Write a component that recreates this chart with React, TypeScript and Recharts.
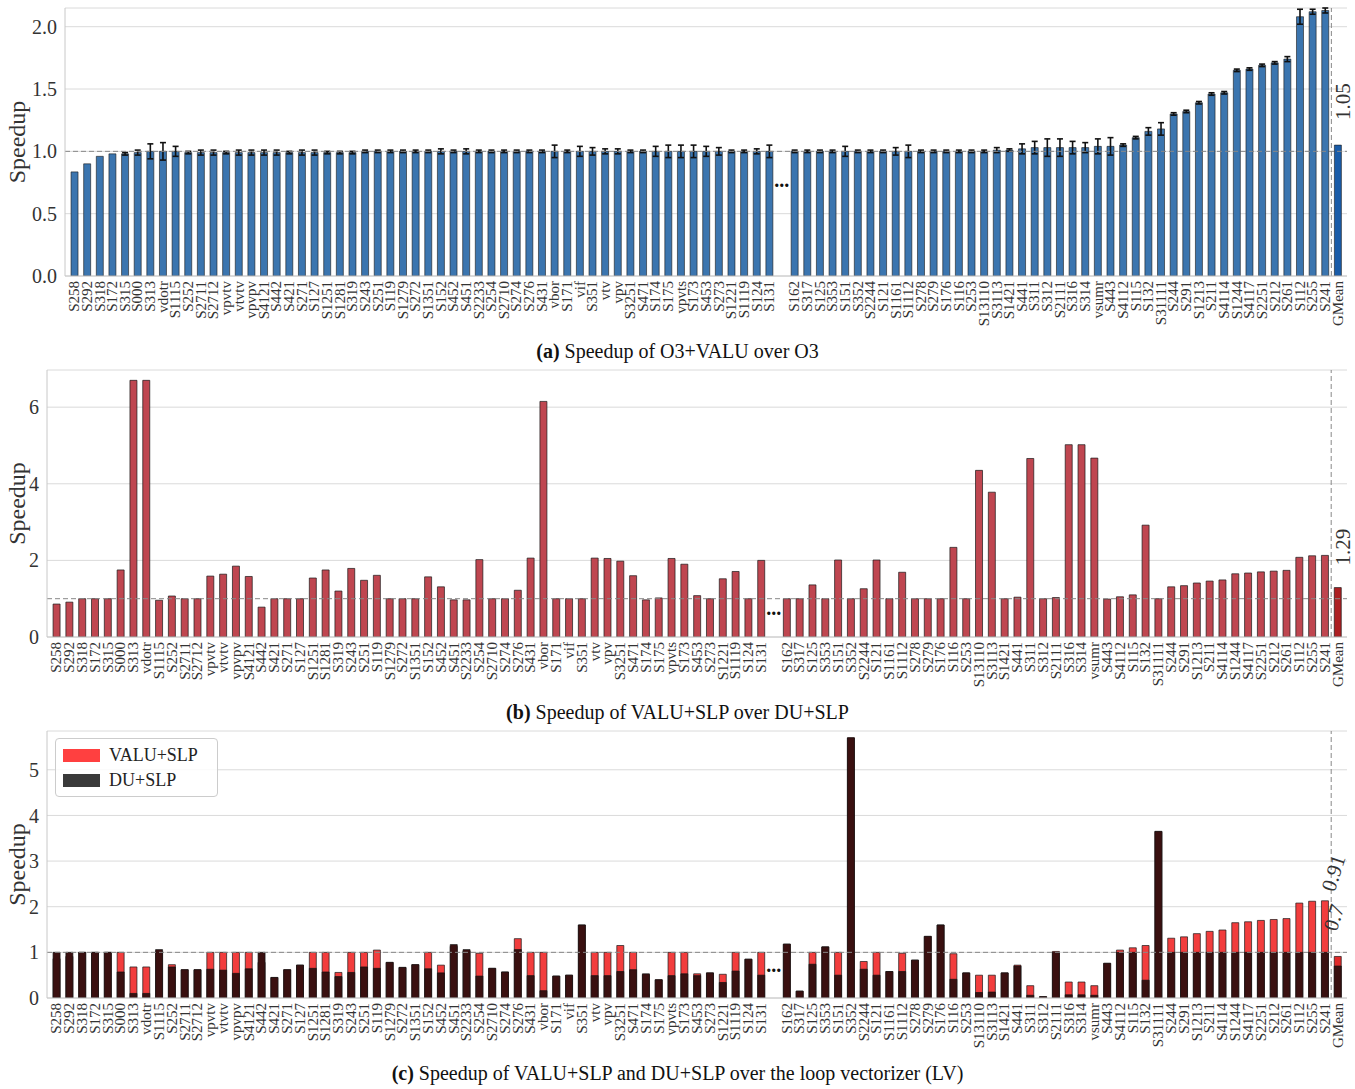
import {
  BarChart,
  Bar,
  XAxis,
  YAxis,
  CartesianGrid,
  ReferenceLine,
  ReferenceDot,
  ErrorBar,
  Cell,
  LabelList,
} from "recharts";

const FONT = '"Liberation Serif", "DejaVu Serif", serif';

// benchmark order is the same in all three panels; " " is the gap with the dots
const CATS = [
  "S258", "S292", "S318", "S172", "S315", "S000", "S313", "vdotr", "S1115", "S252",
  "S2711", "S2712", "vpvtv", "vtvtv", "vpvpv", "S4121", "S442", "S421", "S271", "S127",
  "S1251", "S1281", "S319", "S243", "S251", "S119", "S1279", "S272", "S1351", "S152",
  "S452", "S451", "S2233", "S254", "S2710", "S274", "S276", "S431", "vbor", "S171",
  "vif", "S351", "vtv", "vpv", "S3251", "S471", "S174", "S175", "vpvts", "S173",
  "S453", "S273", "S1221", "S1119", "S124", "S131",
  " ",
  "S162", "S317", "S125", "S353", "S151", "S352", "S2244", "S121", "S1161", "S1112",
  "S278", "S279", "S176", "S116", "S253", "S13110", "S3113", "S1421", "S441", "S311",
  "S312", "S2111", "S316", "S314", "vsumr", "S443", "S4112", "S115", "S132", "S31111",
  "S244", "S291", "S1213", "S211", "S4114", "S1244", "S4117", "S2251", "S212", "S261",
  "S112", "S255", "S241", "GMean",
];

// (a) O3+VALU over O3
const A_VALS = [
  0.835, 0.9, 0.96, 0.98, 0.98, 0.99, 1.0, 1.0, 1.0, 0.99,
  0.99, 0.99, 0.99, 0.99, 0.99, 0.99, 0.99, 0.99, 0.99, 0.99,
  0.99, 0.99, 0.99, 1.0, 1.0, 1.0, 1.0, 1.0, 1.0, 1.0,
  1.0, 1.0, 1.0, 1.0, 1.0, 1.0, 1.0, 1.0, 1.0, 1.0,
  1.0, 1.0, 1.0, 1.0, 1.0, 1.0, 1.0, 1.0, 1.0, 1.0,
  1.0, 1.0, 1.0, 1.0, 1.0, 1.0,
  null,
  1.0, 1.0, 1.0, 1.0, 1.0, 1.0, 1.0, 1.0, 1.0, 1.0,
  1.0, 1.0, 1.0, 1.0, 1.0, 1.0, 1.01, 1.01, 1.02, 1.03,
  1.03, 1.03, 1.03, 1.03, 1.04, 1.04, 1.05, 1.11, 1.16, 1.18,
  1.3, 1.32, 1.39, 1.46, 1.47, 1.65, 1.66, 1.69, 1.71, 1.74,
  2.08, 2.12, 2.13, 1.05,
];
const A_ERR = [
  0, 0, 0, 0, 0.01, 0.02, 0.06, 0.07, 0.04, 0.01,
  0.02, 0.02, 0.01, 0.02, 0.02, 0.02, 0.02, 0.01, 0.02, 0.02,
  0.01, 0.01, 0.01, 0.01, 0.01, 0.01, 0.01, 0.01, 0.01, 0.02,
  0.01, 0.02, 0.01, 0.01, 0.01, 0.01, 0.01, 0.01, 0.05, 0.01,
  0.04, 0.03, 0.02, 0.02, 0.01, 0.01, 0.04, 0.05, 0.05, 0.05,
  0.04, 0.03, 0.01, 0.01, 0.02, 0.05,
  0,
  0.01, 0.01, 0.01, 0.01, 0.04, 0.01, 0.01, 0.01, 0.03, 0.05,
  0.01, 0.01, 0.01, 0.01, 0.01, 0.01, 0.02, 0.01, 0.04, 0.05,
  0.07, 0.07, 0.05, 0.04, 0.06, 0.07, 0.01, 0.01, 0.03, 0.05,
  0.01, 0.01, 0.01, 0.01, 0.01, 0.01, 0.01, 0.01, 0.01, 0.02,
  0.06, 0.02, 0.02, 0,
];

// (b) VALU+SLP over DU+SLP
const B_VALS = [
  0.86, 0.91, 1.0, 1.0, 1.0, 1.75, 6.7, 6.7, 0.96, 1.07,
  1.0, 1.0, 1.59, 1.64, 1.85, 1.58, 0.78, 1.0, 1.0, 1.0,
  1.54, 1.75, 1.2, 1.79, 1.48, 1.61, 1.0, 1.0, 1.0, 1.57,
  1.31, 0.97, 0.97, 2.02, 1.0, 1.0, 1.22, 2.06, 6.15, 1.0,
  1.0, 1.0, 2.06, 2.05, 1.98, 1.6, 0.97, 1.02, 2.05, 1.9,
  1.08, 1.0, 1.52, 1.71, 1.0, 2.0,
  null,
  1.0, 1.0, 1.36, 1.0, 2.01, 1.0, 1.26, 2.01, 1.0, 1.69,
  1.0, 1.0, 1.0, 2.34, 1.0, 4.35, 3.78, 1.0, 1.04, 4.66,
  1.0, 1.03, 5.02, 5.02, 4.67, 0.99, 1.05, 1.1, 2.92, 1.0,
  1.31, 1.34, 1.41, 1.46, 1.49, 1.65, 1.67, 1.7, 1.72, 1.74,
  2.08, 2.12, 2.13, 1.29,
];

// (c) VALU+SLP and DU+SLP over LV
const C_VALU = [
  0.86, 0.91, 1.0, 1.0, 1.0, 1.0, 0.68, 0.68, 1.02, 0.73,
  0.62, 0.62, 1.0, 1.0, 1.0, 1.0, 0.78, 0.45, 0.62, 0.72,
  1.0, 1.0, 0.56, 1.0, 1.0, 1.05, 0.78, 0.67, 0.73, 1.0,
  0.72, 1.13, 1.03, 0.98, 0.65, 0.57, 1.3, 1.0, 1.0, 0.48,
  0.5, 1.6, 1.0, 1.0, 1.15, 1.0, 0.51, 0.4, 1.0, 1.0,
  0.53, 0.55, 0.52, 1.0, 0.85, 1.0,
  null,
  1.18, 0.15, 1.0, 1.12, 1.0, 5.7, 0.8, 1.0, 0.58, 0.98,
  0.83, 1.35, 1.6, 0.97, 0.55, 0.5, 0.5, 0.55, 0.72, 0.27,
  0.03, 1.02, 0.35, 0.35, 0.27, 0.76, 1.05, 1.1, 1.15, 3.65,
  1.31, 1.34, 1.41, 1.46, 1.49, 1.65, 1.67, 1.7, 1.72, 1.74,
  2.08, 2.12, 2.13, 0.91,
];
const C_DU = [
  1.0, 1.0, 1.0, 1.0, 1.0, 0.57, 0.1, 0.1, 1.06, 0.68,
  0.62, 0.62, 0.63, 0.61, 0.54, 0.64, 1.0, 0.45, 0.62, 0.72,
  0.65, 0.57, 0.47, 0.56, 0.68, 0.65, 0.78, 0.67, 0.73, 0.64,
  0.55, 1.17, 1.06, 0.48, 0.65, 0.57, 1.06, 0.49, 0.16, 0.48,
  0.5, 1.6, 0.49, 0.49, 0.58, 0.62, 0.53, 0.4, 0.49, 0.53,
  0.49, 0.55, 0.34, 0.59, 0.85, 0.5,
  null,
  1.18, 0.15, 0.74, 1.12, 0.5, 5.7, 0.63, 0.5, 0.58, 0.58,
  0.83, 1.35, 1.6, 0.41, 0.55, 0.12, 0.13, 0.55, 0.7, 0.06,
  0.03, 1.0, 0.07, 0.07, 0.06, 0.76, 1.0, 1.0, 0.39, 3.65,
  1.0, 1.0, 1.0, 1.0, 1.0, 1.0, 1.0, 1.0, 1.0, 1.0,
  1.0, 1.0, 1.0, 0.7,
];

const rows = CATS.map((name, i) => ({
  name,
  a: A_VALS[i],
  aErr: A_ERR[i],
  b: B_VALS[i],
  cv: C_VALU[i],
  cd: C_DU[i],
  aLab: name === "GMean" ? A_VALS[i] : null,
  bLab: name === "GMean" ? B_VALS[i] : null,
  cvLab: name === "GMean" ? C_VALU[i] : null,
  cdLab: name === "GMean" ? C_DU[i] : null,
}));

const XTick = ({ x, y, payload }: any) => (
  <text
    x={x}
    y={y}
    transform={`rotate(-90, ${x}, ${y})`}
    textAnchor="end"
    dominantBaseline="central"
    fontSize={15}
    fill="#333"
    fontFamily={FONT}
  >
    {payload.value}
  </text>
);

const YTitle = ({ viewBox }: any) => {
  const cy = viewBox.y + viewBox.height / 2;
  return (
    <text
      x={17}
      y={cy}
      transform={`rotate(-90, 17, ${cy})`}
      textAnchor="middle"
      dominantBaseline="central"
      fontSize={24}
      fill="#333"
      fontFamily={FONT}
    >
      Speedup
    </text>
  );
};

// rotated value text over the GMean bar only
const gmLabel = (dx: number, dy: number, angle: number) => (props: any) => {
  const { x, y, width, value } = props;
  if (value == null) return null;
  const lx = x + width / 2 + dx;
  const ly = y + dy;
  return (
    <text
      x={lx}
      y={ly}
      transform={`rotate(${angle}, ${lx}, ${ly})`}
      textAnchor="start"
      dominantBaseline="central"
      fontSize={21}
      fill="#333"
      fontFamily={FONT}
    >
      {value}
    </text>
  );
};

const tickStyle = { fontSize: 20, fill: "#333", fontFamily: FONT };
const GRID = "#dadada";
const FRAME = "#c8c8c8";

const Caption = ({ top, tag, text }: { top: number; tag: string; text: string }) => (
  <div
    style={{
      position: "absolute",
      left: 0,
      top,
      width: 1355,
      textAlign: "center",
      fontFamily: FONT,
      fontSize: 20,
      lineHeight: "24px",
      color: "#111",
    }}
  >
    <b>{tag}</b> {text}
  </div>
);

const gapDots = { value: "...", position: "center" as const, fontSize: 20, fontWeight: 700, fill: "#111" };

export default function App() {
  const common = {
    width: 1355,
    height: 339,
    data: rows,
    margin: { top: 8, right: 8, bottom: 0, left: 0 },
    barCategoryGap: "24%",
  };
  const xAxisBase = {
    dataKey: "name",
    interval: 0,
    tick: <XTick />,
    tickLine: false,
    tickSize: 3,
    tickMargin: 2,
    height: 64,
    axisLine: { stroke: FRAME },
    padding: { left: 3, right: 3 },
  };

  return (
    <div style={{ position: "absolute", left: 0, top: 0, width: 1355, height: 1089, background: "#fff" }}>
      {/* (a) */}
      <div style={{ position: "absolute", left: 0, top: 0 }}>
        <BarChart {...common} height={340}>
          <CartesianGrid horizontal vertical={false} stroke={GRID} />
          <XAxis {...xAxisBase} />
          <XAxis xAxisId="top" orientation="top" dataKey="name" tick={false} tickLine={false} height={0} axisLine={{ stroke: FRAME }} />
          <YAxis
            width={65}
            domain={[0, 2.15]}
            allowDataOverflow
            ticks={[0, 0.5, 1, 1.5, 2]}
            tickFormatter={(v: number) => v.toFixed(1)}
            tick={tickStyle}
            tickLine={false}
            axisLine={{ stroke: FRAME }}
            label={<YTitle />}
          />
          <YAxis yAxisId="r" orientation="right" width={0} tick={false} tickLine={false} axisLine={{ stroke: FRAME }} />
          <Bar dataKey="a" fill="#3b75af" stroke="#1a1a1a" strokeWidth={0.6} isAnimationActive={false}>
            {rows.map((r) => (
              <Cell key={r.name} fill={r.name === "GMean" ? "#1a5ca8" : "#3b75af"} />
            ))}
            <ErrorBar dataKey="aErr" width={3} stroke="#111" strokeWidth={1.6} />
            <LabelList dataKey="aLab" content={gmLabel(5, -25, -90)} />
          </Bar>
          <ReferenceLine y={1} stroke="#888" strokeDasharray="5 3" />
          <ReferenceLine x="GMean" position="start" stroke="#888" strokeDasharray="5 3" />
          <ReferenceDot x=" " y={0.77} r={0} fill="none" stroke="none" label={gapDots} />
        </BarChart>
      </div>
      <Caption top={339} tag="(a)" text="Speedup of O3+VALU over O3" />

      {/* (b) */}
      <div style={{ position: "absolute", left: 0, top: 362 }}>
        <BarChart {...common}>
          <CartesianGrid horizontal vertical={false} stroke={GRID} />
          <XAxis {...xAxisBase} />
          <XAxis xAxisId="top" orientation="top" dataKey="name" tick={false} tickLine={false} height={0} axisLine={{ stroke: FRAME }} />
          <YAxis
            width={47}
            domain={[0, 6.97]}
            allowDataOverflow
            ticks={[0, 2, 4, 6]}
            tick={tickStyle}
            tickLine={false}
            axisLine={{ stroke: FRAME }}
            label={<YTitle />}
          />
          <YAxis yAxisId="r" orientation="right" width={0} tick={false} tickLine={false} axisLine={{ stroke: FRAME }} />
          <Bar dataKey="b" fill="#bf4650" stroke="#1a1a1a" strokeWidth={0.7} isAnimationActive={false}>
            {rows.map((r) => (
              <Cell key={r.name} fill={r.name === "GMean" ? "#ad1f22" : "#bf4650"} />
            ))}
            <LabelList dataKey="bLab" content={gmLabel(5, -22, -90)} />
          </Bar>
          <ReferenceLine y={1} stroke="#888" strokeDasharray="5 3" />
          <ReferenceLine x="GMean" position="start" stroke="#888" strokeDasharray="5 3" />
          <ReferenceDot x=" " y={0.76} r={0} fill="none" stroke="none" label={gapDots} />
        </BarChart>
      </div>
      <Caption top={700} tag="(b)" text="Speedup of VALU+SLP over DU+SLP" />

      {/* (c) red VALU+SLP behind, dark DU+SLP on a hidden twin axis so they overlap */}
      <div style={{ position: "absolute", left: 0, top: 723 }}>
        <BarChart {...common}>
          <CartesianGrid horizontal vertical={false} stroke={GRID} />
          <XAxis {...xAxisBase} />
          <XAxis xAxisId="ov" dataKey="name" hide padding={{ left: 3, right: 3 }} />
          <XAxis xAxisId="top" orientation="top" dataKey="name" tick={false} tickLine={false} height={0} axisLine={{ stroke: FRAME }} />
          <YAxis
            width={47}
            domain={[0, 5.85]}
            allowDataOverflow
            ticks={[0, 1, 2, 3, 4, 5]}
            tick={tickStyle}
            tickLine={false}
            axisLine={{ stroke: FRAME }}
            label={<YTitle />}
          />
          <YAxis yAxisId="r" orientation="right" width={0} tick={false} tickLine={false} axisLine={{ stroke: FRAME }} />
          <Bar dataKey="cv" fill="#f23d3d" stroke="#1a1a1a" strokeWidth={0.7} isAnimationActive={false}>
            {rows.map((r) => (
              <Cell key={r.name} fill={r.name === "GMean" ? "#e02a2a" : "#f23d3d"} />
            ))}
            <LabelList dataKey="cvLab" content={gmLabel(-10, -66, -72)} />
          </Bar>
          <Bar xAxisId="ov" dataKey="cd" fill="#3a1010" stroke="#111" strokeWidth={0.7} isAnimationActive={false}>
            <LabelList dataKey="cdLab" content={gmLabel(-8, -36, -72)} />
          </Bar>
          <ReferenceLine y={1} stroke="#888" strokeDasharray="5 3" />
          <ReferenceLine x="GMean" position="start" stroke="#888" strokeDasharray="5 3" />
          <ReferenceDot x=" " y={0.72} r={0} fill="none" stroke="none" label={gapDots} />
        </BarChart>
      </div>
      <div
        style={{
          position: "absolute",
          left: 55,
          top: 738,
          width: 161,
          height: 57,
          border: "1px solid #ccc",
          borderRadius: 4,
          background: "rgba(255,255,255,0.85)",
          fontFamily: FONT,
          fontSize: 18,
          color: "#222",
        }}
      >
        {[
          { label: "VALU+SLP", color: "#ff4040" },
          { label: "DU+SLP", color: "#3a3a3a" },
        ].map((it, i) => (
          <div key={it.label} style={{ position: "absolute", left: 7, top: 7 + i * 25, display: "flex", alignItems: "center" }}>
            <span style={{ display: "inline-block", width: 37, height: 13, background: it.color, marginRight: 9 }} />
            <span style={{ lineHeight: "18px" }}>{it.label}</span>
          </div>
        ))}
      </div>
      <Caption top={1061} tag="(c)" text="Speedup of VALU+SLP and DU+SLP over the loop vectorizer (LV)" />
    </div>
  );
}
